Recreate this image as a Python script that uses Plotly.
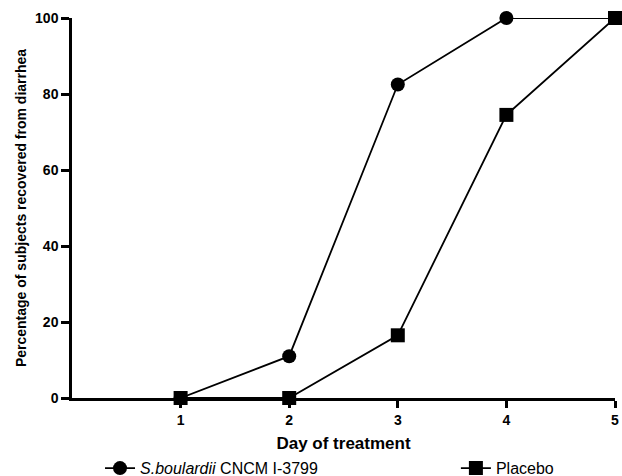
import plotly.graph_objects as go

days = [1, 2, 3, 4, 5]
sb_values = [0, 11, 82.5, 100, 100]
placebo_values = [0, 0, 16.5, 74.5, 100]
sb_name = "<i>S.boulardii</i> CNCM I-3799"
placebo_name = "Placebo"

fig = go.Figure()
fig.add_trace(go.Scatter(
    x=days, y=sb_values, name=sb_name, mode="lines+markers",
    line=dict(color="black", width=1.8),
    marker=dict(symbol="circle", size=14, color="black"),
    cliponaxis=False, legend="legend",
))
fig.add_trace(go.Scatter(
    x=days, y=placebo_values, name=placebo_name, mode="lines+markers",
    line=dict(color="black", width=1.8),
    marker=dict(symbol="square", size=14, color="black"),
    cliponaxis=False, legend="legend2",
))

legend_common = dict(
    orientation="h", y=-0.14, xanchor="left", yanchor="top",
    font=dict(size=16, color="black"), itemwidth=30,
    bgcolor="rgba(0,0,0,0)",
)

fig.update_layout(
    width=622, height=476,
    margin=dict(l=72, r=7, t=18, b=78, autoexpand=False),
    plot_bgcolor="white", paper_bgcolor="white",
    font=dict(family="Liberation Sans, Arial, sans-serif", color="black"),
    showlegend=True,
    legend=dict(x=0.0516, **legend_common),
    legend2=dict(x=0.707, **legend_common),
    xaxis=dict(
        range=[0, 5], tickvals=[1, 2, 3, 4, 5],
        ticks="outside", ticklen=7, tickwidth=2.5, tickcolor="black",
        showline=True, linecolor="black", linewidth=2.5,
        showgrid=False, zeroline=False,
        tickfont=dict(size=14, family="Liberation Sans, Arial", weight="bold"),
        title=dict(text="<b>Day of treatment</b>", font=dict(size=17), standoff=11),
    ),
    yaxis=dict(
        range=[0, 100], tickvals=[0, 20, 40, 60, 80, 100],
        ticks="outside", ticklen=8, tickwidth=2.5, tickcolor="black",
        showline=True, linecolor="black", linewidth=2.5,
        showgrid=False, zeroline=False,
        tickfont=dict(size=14, family="Liberation Sans, Arial", weight="bold"),
        title=dict(text="<b>Percentage of subjects recovered from diarrhea</b>", font=dict(size=14), standoff=6),
    ),
)

fig.write_html(
    "out.html",
    config={"displayModeBar": False},
    post_script="document.body.style.margin='0px';document.body.style.overflow='hidden';",
)
